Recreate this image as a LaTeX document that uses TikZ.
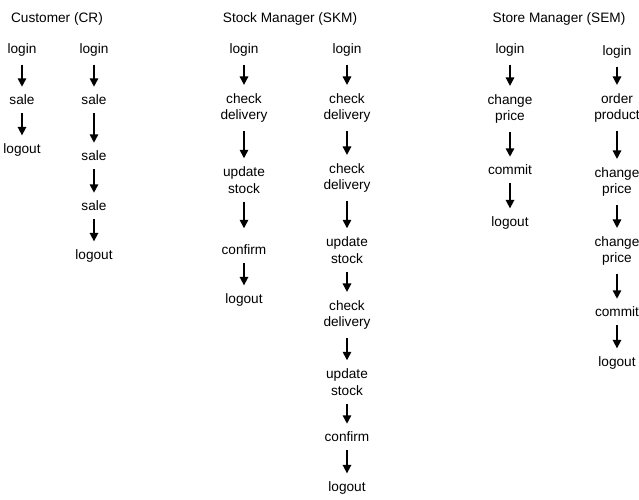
\documentclass[tikz,border=0pt]{standalone}
\usepackage{fontspec}
\setmainfont{Liberation Sans}
\usetikzlibrary{arrows.meta,positioning}

\begin{document}
\begin{tikzpicture}[x=0.025cm,y=-0.025cm,
  act/.style={align=center,inner xsep=2pt,inner ysep=0.2cm,font=\fontsize{9.7}{12}\selectfont},
  flow/.style={-{Triangle[length=6pt,width=6pt]},line width=1.1pt}]
\useasboundingbox (0,0) rectangle (639,500);
\clip (0,0) rectangle (639,500);

\node[act] (tcr) at (57,19) {Customer (CR)};
\node[act] (tskm) at (290,19) {Stock Manager (SKM)};
\node[act] (tsem) at (559,19) {Store Manager (SEM)};

% Customer
\node[act] (cra1) at (22,50) {login};
\node[act] (cra2) at (22,100) {sale};
\node[act] (cra3) at (22,150) {logout};

\node[act] (crb1) at (94,50) {login};
\node[act] (crb2) at (94,100) {sale};
\node[act] (crb3) at (94,156) {sale};
\node[act] (crb4) at (94,206) {sale};
\node[act] (crb5) at (94,256) {logout};

% Stock Manager
\node[act] (ska1) at (244,50) {login};
\node[act] (ska2) at (244,108) {check\\delivery};
\node[act] (ska3) at (244,180) {update\\stock};
\node[act] (ska4) at (244,250) {confirm};
\node[act] (ska5) at (244,300) {logout};

\node[act] (skb1) at (347,50) {login};
\node[act] (skb2) at (347,108) {check\\delivery};
\node[act] (skb3) at (347,178) {check\\delivery};
\node[act] (skb4) at (347,250) {update\\stock};
\node[act] (skb5) at (347,315) {check\\delivery};
\node[act] (skb6) at (347,382) {update\\stock};
\node[act] (skb7) at (347,437) {confirm};
\node[act] (skb8) at (347,488) {logout};

% Store Manager
\node[act] (sea1) at (510,50) {login};
\node[act] (sea2) at (510,109) {change\\price};
\node[act] (sea3) at (510,170) {commit};
\node[act] (sea4) at (510,223) {logout};

\node[act] (seb1) at (617,52) {login};
\node[act] (seb2) at (617,108) {order\\product};
\node[act] (seb3) at (617,182) {change\\price};
\node[act] (seb4) at (617,251) {change\\price};
\node[act] (seb5) at (617,312) {commit};
\node[act] (seb6) at (617,363) {logout};

\foreach \a/\b/\s in {cra1/cra2/0,cra2/cra3/0,
  crb1/crb2/0,crb2/crb3/0,crb3/crb4/0,crb4/crb5/0,
  ska1/ska2/0,ska2/ska3/0,ska3/ska4/6,ska4/ska5/0,
  skb1/skb2/0,skb2/skb3/0,skb3/skb4/0,skb4/skb5/0,skb5/skb6/0,skb6/skb7/0,skb7/skb8/0,
  sea1/sea2/0,sea2/sea3/0,sea3/sea4/0,
  seb1/seb2/0,seb2/seb3/0,seb3/seb4/0,seb4/seb5/0,seb5/seb6/0} {
\draw[flow,shorten >=\s pt] (\a) -- (\b);};
\end{tikzpicture}
\end{document}
